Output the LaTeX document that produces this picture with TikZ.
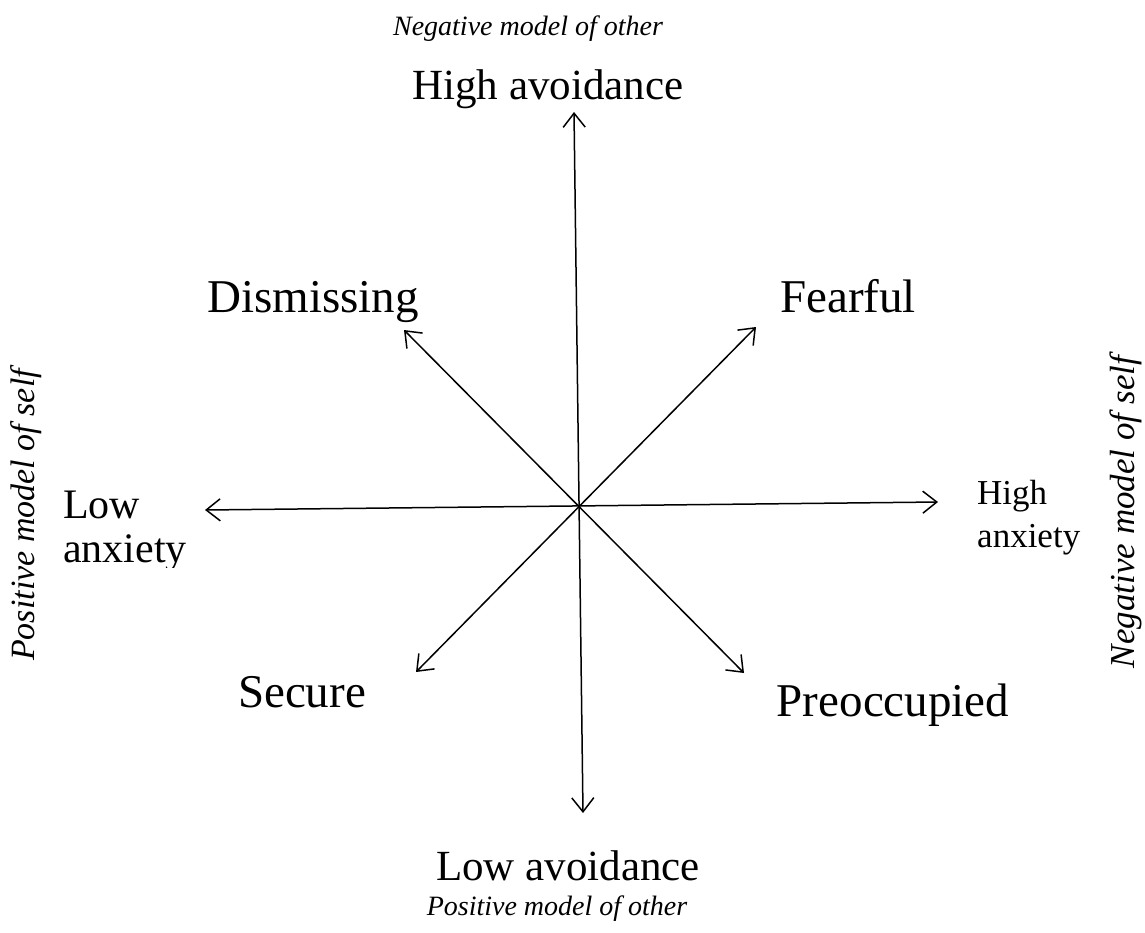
\documentclass[tikz,border=0pt]{standalone}
\usepackage{fontspec}
\setmainfont{Liberation Serif}
\usetikzlibrary{arrows.meta}
\begin{document}
\begin{tikzpicture}[x=1pt,y=-1pt,
  axis/.style={{Straight Barb[length=14pt,width=22pt]}-{Straight Barb[length=14pt,width=22pt]}, line width=1.5pt},
  style/.style={font=\fontsize{47}{52}\selectfont, inner sep=0pt, anchor=base},
  dim/.style={font=\fontsize{43}{48}\selectfont, inner sep=0pt, anchor=base},
  model/.style={font=\fontsize{28}{32}\selectfont\itshape, inner sep=0pt, anchor=base},
  side/.style={font=\fontsize{34}{38}\selectfont\itshape, inner sep=0pt, anchor=base, rotate=90}]
\useasboundingbox (0,0) rectangle (1145,932);
% axis ends
\coordinate (up) at (574,112);
\coordinate (down) at (583,813);
\coordinate (left) at (205,510);
\coordinate (right) at (938,502);
\coordinate (ne) at (756,327);
\coordinate (sw) at (416,672);
\coordinate (nw) at (404,330);
\coordinate (se) at (744,673);
\draw[axis] (down) -- (up);
\draw[axis] (left) -- (right);
\draw[axis] (sw) -- (ne);
\draw[axis] (se) -- (nw);
% labels
\node[model] (negother) at (528,35) {Negative model of other};
\node[dim] (highav) at (548,99) {High avoidance};
\node[dim] (lowav) at (568,880) {Low avoidance};
\node[model] (posother) at (557,915) {Positive model of other};
\node[style] (dism) at (313,312) {Dismissing};
\node[style] (fear) at (848,312) {Fearful};
\node[style] (sec) at (302,707) {Secure};
\node[style] (preo) at (893,716) {Preoccupied};
\begin{scope}
\clip (0,300) rectangle (300,567);
\node[font=\fontsize{42}{44}\selectfont, inner sep=0pt, anchor=base west, align=left] (lowanx) at (63,562) {Low\\anxiety};
\end{scope}
\node[font=\fontsize{35}{43}\selectfont, inner sep=0pt, anchor=base west, align=left] (highanx) at (977,547) {High\\anxiety};
\node[side] (posself) at (34,515) {Positive model of self};
\node[side, font=\fontsize{35}{38}\selectfont\itshape] (negself) at (1134,512) {Negative model of self};
\end{tikzpicture}
\end{document}
